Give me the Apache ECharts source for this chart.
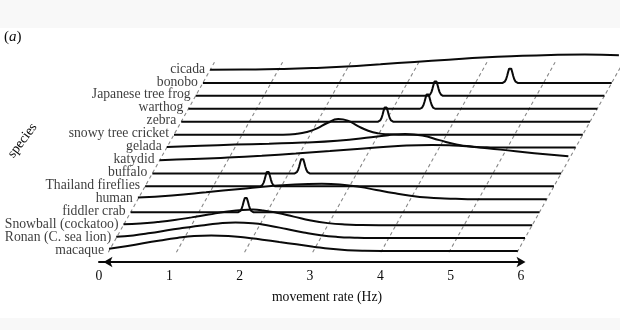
<!DOCTYPE html>
<html>
<head>
<meta charset="utf-8">
<script src="https://cdn.jsdelivr.net/npm/echarts@6/dist/echarts.min.js"></script>
<style>
  html, body { margin: 0; padding: 0; background: #f8f8f8; }
  #chart { width: 620px; height: 330px; }
</style>
</head>
<body>
<div id="chart"></div>
<script>
// Species, bottom to top
const species = [
  'macaque', 'Ronan (C. sea lion)', 'Snowball (cockatoo)', 'fiddler crab', 'human',
  'Thailand fireflies', 'buffalo', 'katydid', 'gelada', 'snowy tree cricket',
  'zebra', 'warthog', 'Japanese tree frog', 'bonobo', 'cicada'
];

// Broad distributions: [rate (Hz), relative density]
const macaque = [[0,0.15],[0.25,0.3],[0.5,0.5],[0.75,0.68],[1,0.84],[1.25,0.96],[1.5,1],[1.75,0.97],[2,0.87],[2.25,0.73],[2.5,0.58],[2.75,0.43],[3,0.28],[3.25,0.14],[3.5,0.05],[3.75,0.01],[4,0],[6,0]];
const ronan = [[0,0.08],[0.25,0.17],[0.5,0.32],[0.75,0.5],[1,0.66],[1.25,0.81],[1.5,0.94],[1.75,1],[2,0.96],[2.25,0.8],[2.5,0.58],[2.75,0.36],[3,0.18],[3.25,0.07],[3.5,0.02],[3.75,0],[6,0]];
const snowball = [[0,0.05],[0.25,0.1],[0.5,0.2],[0.75,0.33],[1,0.5],[1.25,0.68],[1.5,0.86],[1.75,0.98],[1.9,1],[2.05,0.95],[2.25,0.8],[2.5,0.55],[2.75,0.3],[3,0.13],[3.25,0.04],[3.5,0.01],[3.75,0],[6,0]];
const human = [[0,0.12],[0.5,0.25],[1,0.45],[1.5,0.67],[2,0.87],[2.5,0.99],[2.7,1],[3,0.94],[3.25,0.8],[3.5,0.6],[3.75,0.4],[4,0.23],[4.25,0.11],[4.5,0.05],[4.75,0.02],[5,0],[6,0]];
const katydid = [[0,0.02],[0.5,0.09],[1,0.19],[1.5,0.31],[2,0.45],[2.5,0.61],[3,0.78],[3.5,0.93],[4,1],[4.25,0.98],[4.5,0.92],[5,0.7],[5.5,0.47],[6,0.27]];
const gelada = [[0,0.04],[0.5,0.12],[1,0.19],[1.5,0.25],[2,0.32],[2.5,0.44],[3,0.66],[3.25,0.8],[3.5,0.88],[3.75,0.78],[4,0.48],[4.25,0.2],[4.5,0.06],[4.75,0.01],[5,0],[6,0]];
const snowyTreeCricket = [[0,0],[1.6,0],[1.8,0.05],[1.95,0.17],[2.1,0.4],[2.25,0.75],[2.41,1],[2.55,0.9],[2.7,0.55],[2.85,0.25],[3,0.08],[3.15,0.02],[3.3,0],[6,0]];
const cicada = [[0,0.01],[0.5,0.03],[1,0.06],[1.5,0.12],[2,0.22],[2.5,0.37],[3,0.52],[3.5,0.66],[4,0.8],[4.5,0.9],[5,0.97],[5.5,1],[6,0.95]];

// Very regular movers: single sharp peak at a fixed rate (Hz)
const spikeRates = {
  'fiddler crab': 1.69,
  'Thailand fireflies': 1.8,
  'buffalo': 2.2,
  'zebra': 3.0,
  'warthog': 3.51,
  'Japanese tree frog': 3.52,
  'bonobo': 4.51
};
// Shape of a sharp peak: offset from its rate (Hz) and relative density
const spikeOffsets = [-0.11,-0.08,-0.06,-0.045,-0.03,-0.015,0,0.015,0.03,0.045,0.06,0.08,0.11];
const spikeShape   = [0,0.08,0.24,0.45,0.7,0.92,1,0.92,0.7,0.45,0.24,0.08,0];

const broad = {
  'macaque': macaque, 'Ronan (C. sea lion)': ronan, 'Snowball (cockatoo)': snowball,
  'human': human, 'katydid': katydid, 'gelada': gelada,
  'snowy tree cricket': snowyTreeCricket, 'cicada': cicada
};

const rateTicks = [0, 1, 2, 3, 4, 5, 6];

// Layout of the slanted ridge panel
const PX_PER_HZ = 68.8;   // horizontal scale
const ROW_PX = 12.93;     // vertical distance between ridges
const SHEAR = 0.106;      // horizontal shift (Hz) per ridge step
const PEAK_ROWS = 1.2;    // height of a density of 1, in ridge steps
const ORIGIN_X = 110, ORIGIN_Y = 251;
const X_MIN = -1.5, X_MAX = 7.5, Y_MIN = -1, Y_MAX = 16;

function ridgeCurve(name, i) {
  let pts;
  if (broad[name]) {
    pts = broad[name];
  } else {
    const c = spikeRates[name];
    pts = [[0, 0]].concat(spikeOffsets.map((o, k) => [c + o, spikeShape[k]]), [[6, 0]]);
  }
  return pts.map(([hz, d]) => [hz + SHEAR * i, i + d * PEAK_ROWS]);
}

const series = [];

// slanted dashed guides at each whole Hz
rateTicks.forEach(k => {
  series.push({
    type: 'line', xAxisIndex: 0, yAxisIndex: 0, silent: true,
    symbol: 'none', clip: true,
    data: [[k + SHEAR * -0.1, -0.1], [k + SHEAR * 14.6, 14.6]],
    lineStyle: { color: '#888888', width: 1.1, type: [3.5, 3] },
    z: 1
  });
});

species.forEach((name, i) => {
  series.push({
    type: 'line', name, xAxisIndex: 0, yAxisIndex: 0, silent: true,
    symbol: 'none', smooth: broad[name] ? 0.5 : false,
    data: ridgeCurve(name, i),
    lineStyle: { color: '#0a0a0a', width: 2 },
    z: 3
  });
});

// species names at the start of each ridge
series.push({
  type: 'scatter', xAxisIndex: 0, yAxisIndex: 0, silent: true,
  symbolSize: 0,
  data: species.map((name, i) => ({ value: [SHEAR * i, i], name })),
  label: {
    show: true, position: 'left', distance: 5, offset: [0, -1],
    formatter: p => p.name,
    fontFamily: 'Liberation Serif', fontSize: 13.7, color: '#0a0a0a'
  },
  z: 4
});

// invisible series so the bottom axis grid has content
series.push({
  type: 'line', xAxisIndex: 1, yAxisIndex: 1, data: [], symbol: 'none'
});

const chart = echarts.init(document.getElementById('chart'), null, { renderer: 'canvas' });
chart.setOption({
  backgroundColor: '#f8f8f8',
  animation: false,
  grid: [
    {
      left: ORIGIN_X + PX_PER_HZ * X_MIN,
      width: (X_MAX - X_MIN) * PX_PER_HZ,
      top: ORIGIN_Y - ROW_PX * Y_MAX,
      height: (Y_MAX - Y_MIN) * ROW_PX
    },
    { left: 99, width: 422, top: 200, height: 62 }
  ],
  xAxis: [
    { gridIndex: 0, type: 'value', min: X_MIN, max: X_MAX, show: false },
    {
      gridIndex: 1, type: 'value', min: rateTicks[0], max: rateTicks[rateTicks.length - 1], interval: 1,
      position: 'bottom',
      axisLine: {
        show: true, symbol: ['arrow', 'arrow'], symbolSize: [8, 9], symbolOffset: [4.5, 4.5],
        lineStyle: { color: '#0a0a0a', width: 2 }
      },
      axisTick: { show: false },
      splitLine: { show: false },
      axisLabel: { fontFamily: 'Liberation Serif', fontSize: 13.7, color: '#0a0a0a', margin: 7 }
    }
  ],
  yAxis: [
    { gridIndex: 0, type: 'value', min: Y_MIN, max: Y_MAX, show: false },
    { gridIndex: 1, type: 'value', min: 0, max: 1, show: false }
  ],
  graphic: [
    { type: 'rect', shape: { x: 0, y: 28, width: 620, height: 290 }, style: { fill: '#ffffff' }, z: -10, silent: true },
    {
      type: 'text', x: 4, y: 37, silent: true,
      style: {
        text: '({i|a})', fontFamily: 'Liberation Serif', fontSize: 15, fill: '#0a0a0a',
        textVerticalAlign: 'middle',
        rich: { i: { fontStyle: 'italic', fontFamily: 'Liberation Serif', fontSize: 15 } }
      }
    },
    {
      type: 'text', x: 22.5, y: 140.5, rotation: 0.925, silent: true,
      style: {
        text: 'species', fontFamily: 'Liberation Serif', fontSize: 13.7, fill: '#0a0a0a',
        textAlign: 'center', textVerticalAlign: 'middle'
      }
    },
    {
      type: 'text', x: 327, y: 297, silent: true,
      style: {
        text: 'movement rate (Hz)', fontFamily: 'Liberation Serif', fontSize: 13.7, fill: '#0a0a0a',
        textAlign: 'center', textVerticalAlign: 'middle'
      }
    }
  ],
  series
});
</script>
</body>
</html>
